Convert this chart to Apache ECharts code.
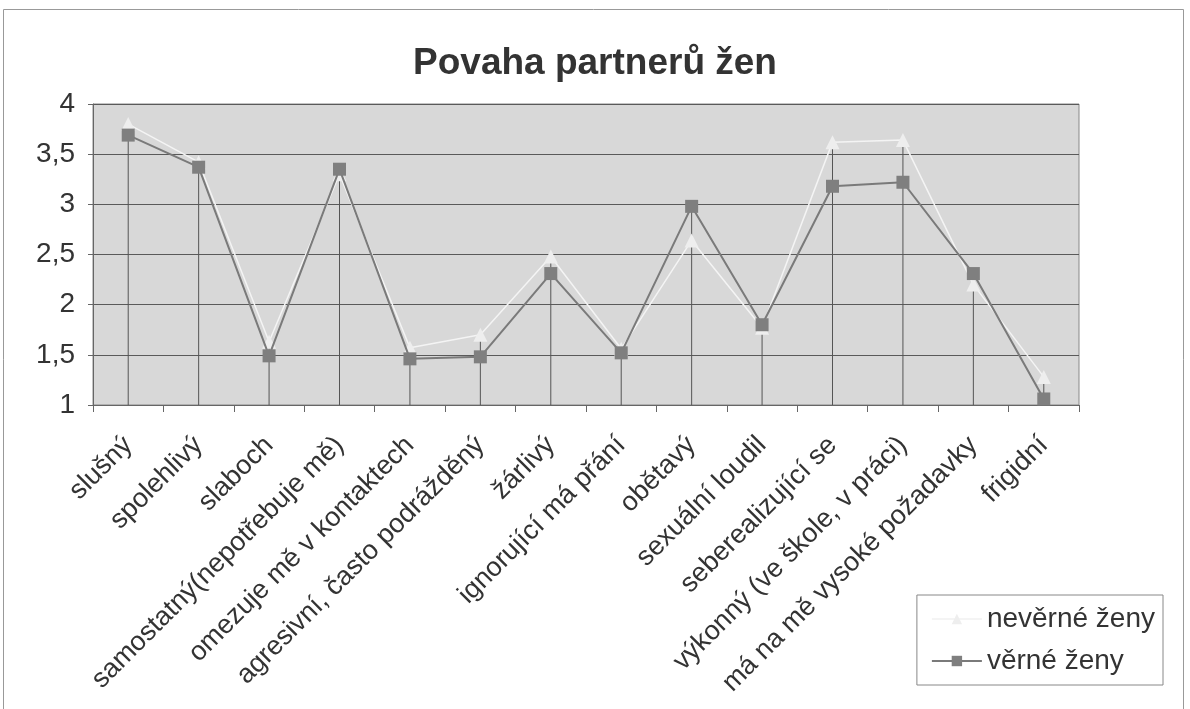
<!DOCTYPE html>
<html>
<head>
<meta charset="utf-8">
<script src="https://cdn.jsdelivr.net/npm/echarts@6/dist/echarts.min.js"></script>
<style>
  html, body { margin: 0; padding: 0; background: #fff; }
  #chart { width: 1190px; height: 709px; }
</style>
</head>
<body>
<div id="chart"></div>
<script>
// kategorie (osa x)
var categories = [
  "slušný",
  "spolehlivý",
  "slaboch",
  "samostatný(nepotřebuje mě)",
  "omezuje mě v kontaktech",
  "agresivní, často podrážděný",
  "žárlivý",
  "ignorující má přání",
  "obětavý",
  "sexuální loudil",
  "seberealizující se",
  "výkonný (ve škole, v práci)",
  "má na mě vysoké požadavky",
  "frigidní"
];
// nevěrné ženy
var neverneZeny = [3.8, 3.42, 1.63, 3.3, 1.57, 1.7, 2.48, 1.56, 2.64, 1.77, 3.62, 3.64, 2.2, 1.28];
// věrné ženy
var verneZeny = [3.69, 3.37, 1.49, 3.35, 1.46, 1.48, 2.31, 1.52, 2.98, 1.8, 3.18, 3.22, 2.31, 1.06];
// svislé spojnice vedou k vyššímu bodu
var dropLines = neverneZeny.map(function (v, i) {
  return Math.max(v, verneZeny[i]);
});

var option = {
  backgroundColor: "#fff",
  animation: false,
  title: {
    text: "Povaha partnerů žen",
    left: "center",
    top: 40,
    textStyle: {
      fontFamily: "Liberation Sans, Arial",
      fontSize: 37,
      fontWeight: "bold",
      color: "#333"
    }
  },
  graphic: [
    {
      type: "rect",
      shape: { x: 3.5, y: 9.5, width: 1180, height: 720 },
      style: { fill: "none", stroke: "#999", lineWidth: 1 },
      silent: true
    }
  ],
  legend: {
    orient: "vertical",
    right: 27,
    top: 595,
    padding: [10, 8, 10, 14],
    itemGap: 14,
    itemWidth: 50,
    itemHeight: 13,
    backgroundColor: "#fff",
    borderColor: "#888",
    borderWidth: 1,
    borderRadius: 0,
    data: ["nevěrné ženy", "věrné ženy"],
    textStyle: {
      fontFamily: "Liberation Sans, Arial",
      fontSize: 28,
      color: "#333"
    }
  },
  grid: {
    left: 93,
    right: 111,
    top: 104,
    bottom: 304,
    show: true,
    backgroundColor: "#d8d8d8",
    borderColor: "#888",
    borderWidth: 1
  },
  xAxis: {
    type: "category",
    data: categories,
    boundaryGap: true,
    axisLine: { lineStyle: { color: "#666", width: 1 } },
    axisTick: { show: true, length: 7, lineStyle: { color: "#666" } },
    axisLabel: {
      rotate: 45,
      interval: 0,
      margin: 36,
      fontFamily: "Liberation Sans, Arial",
      fontSize: 27,
      color: "#333"
    },
    splitLine: { show: false }
  },
  yAxis: {
    type: "value",
    min: 1,
    max: 4,
    interval: 0.5,
    axisLine: { show: true, lineStyle: { color: "#666" } },
    axisTick: { show: true, length: 5, lineStyle: { color: "#666" } },
    axisLabel: {
      margin: 18,
      fontFamily: "Liberation Sans, Arial",
      fontSize: 28,
      color: "#333",
      formatter: function (v) {
        return String(v).replace(".", ",");
      }
    },
    splitLine: { show: true, lineStyle: { color: "#5a5a5a", width: 1 } }
  },
  series: [
    {
      name: "spojnice",
      type: "bar",
      data: dropLines,
      barWidth: 1,
      silent: true,
      z: 1,
      itemStyle: { color: "#555" }
    },
    {
      name: "nevěrné ženy",
      type: "line",
      data: neverneZeny,
      symbol: "triangle",
      symbolSize: 14,
      z: 3,
      lineStyle: { color: "#f4f4f4", width: 1.5 },
      itemStyle: { color: "#eeeeee", borderWidth: 0 }
    },
    {
      name: "věrné ženy",
      type: "line",
      data: verneZeny,
      symbol: "rect",
      symbolSize: 13,
      z: 4,
      lineStyle: { color: "#7a7a7a", width: 2 },
      itemStyle: { color: "#7f7f7f", borderWidth: 0 }
    }
  ]
};

var myChart = echarts.init(document.getElementById("chart"));
myChart.setOption(option);
window.addEventListener("resize", function () {
  myChart.resize();
});
</script>
</body>
</html>
